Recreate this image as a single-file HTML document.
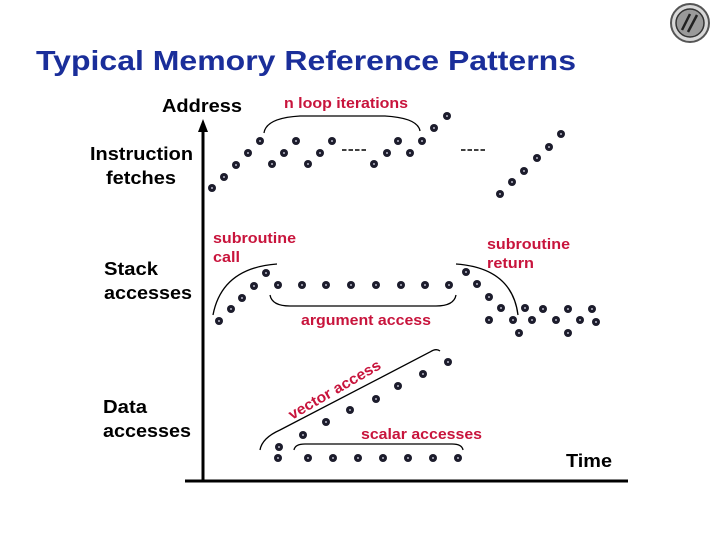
<!DOCTYPE html>
<html><head><meta charset="utf-8"><style>
html,body{margin:0;padding:0;background:#fff;}
svg{display:block;}
text{font-family:"Liberation Sans",Arial,sans-serif;font-weight:bold;}
.lbl{font-size:18px;fill:#000;}
.red{font-size:15px;fill:#c8143c;}
</style></head><body>
<svg width="720" height="540" viewBox="0 0 720 540" xmlns="http://www.w3.org/2000/svg" font-family="Liberation Sans, Arial, sans-serif">
<defs>
<g id="d"><circle r="4" fill="#1c1c2c"/><circle r="1" fill="#b8b8c8"/></g>
</defs>
<!-- logo -->
<circle cx="690" cy="23" r="19" fill="#d8d8d8" stroke="#555" stroke-width="2"/>
<circle cx="690" cy="23" r="14" fill="#9a9a9a" stroke="#333" stroke-width="1.5"/>
<path d="M682 30 L690 14 M688 32 L697 15" stroke="#222" stroke-width="2.5"/>
<!-- title -->
<text x="36" y="70" font-size="28" fill="#1a2e9a" textLength="540" lengthAdjust="spacingAndGlyphs">Typical Memory Reference Patterns</text>
<!-- labels -->
<text x="162" y="112" class="lbl" textLength="80" lengthAdjust="spacingAndGlyphs">Address</text>
<text x="90" y="160" class="lbl" textLength="103" lengthAdjust="spacingAndGlyphs">Instruction</text>
<text x="106" y="184" class="lbl" textLength="70" lengthAdjust="spacingAndGlyphs">fetches</text>
<text x="104" y="275" class="lbl" textLength="54" lengthAdjust="spacingAndGlyphs">Stack</text>
<text x="104" y="299" class="lbl" textLength="88" lengthAdjust="spacingAndGlyphs">accesses</text>
<text x="103" y="413" class="lbl" textLength="44" lengthAdjust="spacingAndGlyphs">Data</text>
<text x="103" y="437" class="lbl" textLength="88" lengthAdjust="spacingAndGlyphs">accesses</text>
<text x="566" y="467" class="lbl" textLength="46" lengthAdjust="spacingAndGlyphs">Time</text>
<!-- red labels -->
<text x="284" y="108" class="red" textLength="124" lengthAdjust="spacingAndGlyphs">n loop iterations</text>
<text x="213" y="243" class="red" textLength="83" lengthAdjust="spacingAndGlyphs">subroutine</text>
<text x="213" y="262" class="red" textLength="27" lengthAdjust="spacingAndGlyphs">call</text>
<text x="487" y="249" class="red" textLength="83" lengthAdjust="spacingAndGlyphs">subroutine</text>
<text x="487" y="268" class="red" textLength="47" lengthAdjust="spacingAndGlyphs">return</text>
<text x="301" y="325" class="red" textLength="130" lengthAdjust="spacingAndGlyphs">argument access</text>
<text x="361" y="439" class="red" textLength="121" lengthAdjust="spacingAndGlyphs">scalar accesses</text>
<text class="red" font-size="18" transform="translate(292,420) rotate(-30)" textLength="104" lengthAdjust="spacingAndGlyphs">vector access</text>
<!-- axes -->
<line x1="203" y1="126" x2="203" y2="482" stroke="#000" stroke-width="3"/>
<polygon points="203,119 198,132 208,132" fill="#000"/>
<line x1="185" y1="481" x2="628" y2="481" stroke="#000" stroke-width="3"/>
<!-- dashes -->
<line x1="342" y1="150" x2="366" y2="150" stroke="#000" stroke-width="1.5" stroke-dasharray="4.5,2"/>
<line x1="461" y1="150" x2="486" y2="150" stroke="#000" stroke-width="1.5" stroke-dasharray="4.5,2"/>
<!-- braces -->
<g fill="none" stroke="#000" stroke-width="1.3">
<path d="M264,133 Q266,118 300,116 L385,116 Q418,118 420,131"/>
<path d="M213,315 Q222,268 277,264"/>
<path d="M456,264 Q512,268 518,315"/>
<path d="M270,295 Q272,306 290,306 L436,306 Q454,306 456,295"/>
<path d="M260,450 Q262,438 280,430 L430,352 Q436,348 440,351"/>
<path d="M294,450 Q295,444 305,444 L452,444 Q462,444 463,450"/>
</g>
<!-- dots -->
<g>
<use href="#d" x="212" y="188"/><use href="#d" x="224" y="177"/><use href="#d" x="236" y="165"/><use href="#d" x="248" y="153"/><use href="#d" x="260" y="141"/>
<use href="#d" x="272" y="164"/><use href="#d" x="284" y="153"/><use href="#d" x="296" y="141"/>
<use href="#d" x="308" y="164"/><use href="#d" x="320" y="153"/><use href="#d" x="332" y="141"/>
<use href="#d" x="374" y="164"/><use href="#d" x="387" y="153"/><use href="#d" x="398" y="141"/><use href="#d" x="410" y="153"/><use href="#d" x="422" y="141"/><use href="#d" x="434" y="128"/><use href="#d" x="447" y="116"/>
<use href="#d" x="500" y="194"/><use href="#d" x="512" y="182"/><use href="#d" x="524" y="171"/><use href="#d" x="537" y="158"/><use href="#d" x="549" y="147"/><use href="#d" x="561" y="134"/>

<use href="#d" x="219" y="321"/><use href="#d" x="231" y="309"/><use href="#d" x="242" y="298"/><use href="#d" x="254" y="286"/><use href="#d" x="266" y="273"/>
<use href="#d" x="278" y="285"/><use href="#d" x="302" y="285"/><use href="#d" x="326" y="285"/><use href="#d" x="351" y="285"/><use href="#d" x="376" y="285"/><use href="#d" x="401" y="285"/><use href="#d" x="425" y="285"/><use href="#d" x="449" y="285"/>
<use href="#d" x="466" y="272"/><use href="#d" x="477" y="284"/><use href="#d" x="489" y="297"/><use href="#d" x="501" y="308"/><use href="#d" x="489" y="320"/><use href="#d" x="513" y="320"/><use href="#d" x="519" y="333"/><use href="#d" x="525" y="308"/><use href="#d" x="532" y="320"/><use href="#d" x="543" y="309"/><use href="#d" x="556" y="320"/><use href="#d" x="568" y="309"/><use href="#d" x="568" y="333"/><use href="#d" x="580" y="320"/><use href="#d" x="592" y="309"/><use href="#d" x="596" y="322"/>

<use href="#d" x="279" y="447"/><use href="#d" x="303" y="435"/><use href="#d" x="326" y="422"/><use href="#d" x="350" y="410"/><use href="#d" x="376" y="399"/><use href="#d" x="398" y="386"/><use href="#d" x="423" y="374"/><use href="#d" x="448" y="362"/>
<use href="#d" x="278" y="458"/><use href="#d" x="308" y="458"/><use href="#d" x="333" y="458"/><use href="#d" x="358" y="458"/><use href="#d" x="383" y="458"/><use href="#d" x="408" y="458"/><use href="#d" x="433" y="458"/><use href="#d" x="458" y="458"/>
</g>
</svg>
</body></html>
